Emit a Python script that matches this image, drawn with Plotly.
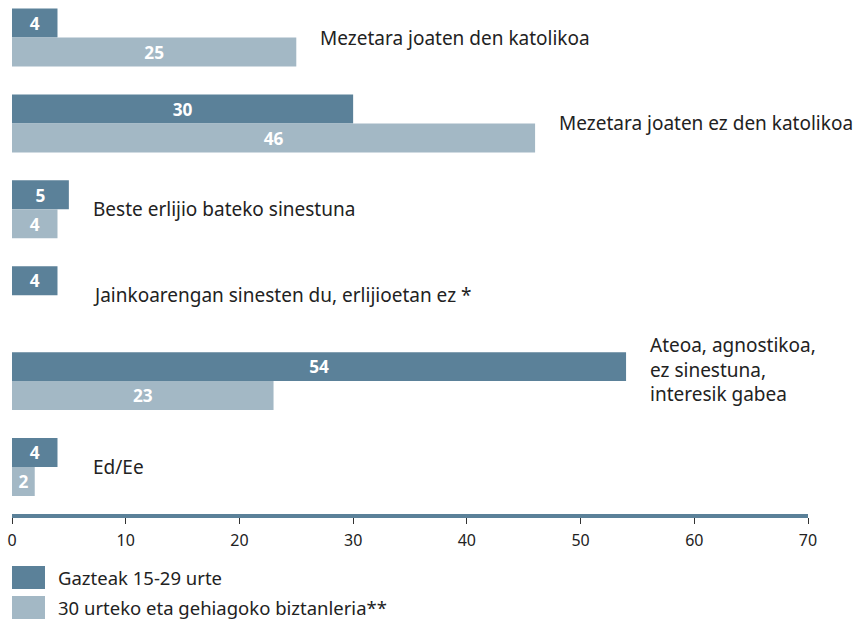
import plotly.graph_objects as go

# Data
categories = [
    "Mezetara joaten den katolikoa",
    "Mezetara joaten ez den katolikoa",
    "Beste erlijio bateko sinestuna",
    "Jainkoarengan sinesten du, erlijioetan ez *",
    "Ateoa, agnostikoa,<br>ez sinestuna,<br>interesik gabea",
    "Ed/Ee",
]
young = [4, 30, 5, 4, 54, 4]
older = [25, 46, 4, None, 23, 2]
series_names = ["Gazteak 15-29 urte", "30 urteko eta gehiagoko biztanleria**"]
x_ticks = [0, 10, 20, 30, 40, 50, 60, 70]

DARK = "#5b8199"
LIGHT = "#a3b8c5"
FONT = "Noto Sans"

W, H = 853, 619
ML, MR, MT, MB = 12, 45, 0, 105
PW, PH = W - ML - MR, H - MT - MB


def paper_x(px):
    return (px - ML) / PW


def paper_y(py):
    return (H - MB - py) / PH


fig = go.Figure()
for vals, name, color in [(young, series_names[0], DARK), (older, series_names[1], LIGHT)]:
    fig.add_trace(go.Bar(
        y=categories,
        x=vals,
        name=name,
        orientation="h",
        marker=dict(color=color, line=dict(width=0)),
        text=[str(v) if v is not None else "" for v in vals],
        textposition="inside",
        insidetextanchor="middle",
        textangle=0,
        textfont=dict(family=FONT, size=18, color="white", weight="bold"),
        showlegend=False,
        hoverinfo="skip",
    ))

# category labels to the right of the bars
for cat, a, b in zip(categories, young, older):
    top = max(v for v in (a, b) if v is not None)
    fig.add_annotation(
        x=max(top, 5), y=cat, text=cat, showarrow=False,
        xanchor="left", yanchor="middle", align="left", xshift=22,
        yshift=12 if "<br>" in cat else 0,
        font=dict(family=FONT, size=19, color="#222222"),
    )

# legend drawn by hand (large swatches)
for i, (name, color) in enumerate(zip(series_names, [DARK, LIGHT])):
    y0 = 566 + i * 30
    fig.add_shape(
        type="rect", xref="paper", yref="paper",
        x0=paper_x(12), x1=paper_x(45),
        y0=paper_y(y0), y1=paper_y(y0 + 23),
        fillcolor=color, line=dict(width=0),
    )
    fig.add_annotation(
        xref="paper", yref="paper",
        x=paper_x(56), y=paper_y(y0 + 11.5),
        text=name, showarrow=False, xanchor="left", yanchor="middle",
        font=dict(family=FONT, size=18.5, color="#222222"),
    )

fig.update_layout(
    width=W, height=H,
    margin=dict(l=ML, r=MR, t=MT, b=MB),
    barmode="group",
    bargap=0.325,
    bargroupgap=0,
    plot_bgcolor="white",
    paper_bgcolor="white",
    font=dict(family=FONT, size=15, color="#222222"),
    showlegend=False,
)
fig.update_xaxes(
    range=[0, 70],
    tickvals=x_ticks,
    showgrid=False,
    zeroline=False,
    showline=True,
    linecolor=DARK,
    linewidth=4,
    ticks="outside",
    ticklen=6,
    tickwidth=1,
    tickcolor="#333333",
    ticklabelstandoff=3,
    tickfont=dict(family=FONT, size=16, color="#222222"),
)
fig.update_yaxes(
    range=[5.547, -0.437],
    showticklabels=False,
    showgrid=False,
    zeroline=False,
    showline=False,
    ticks="",
)

# drop the default page margin so the figure fills the window
fig.write_html(
    "out.html",
    config={"displayModeBar": False},
    post_script="document.body.style.margin='0';document.body.style.overflow='hidden';",
)
